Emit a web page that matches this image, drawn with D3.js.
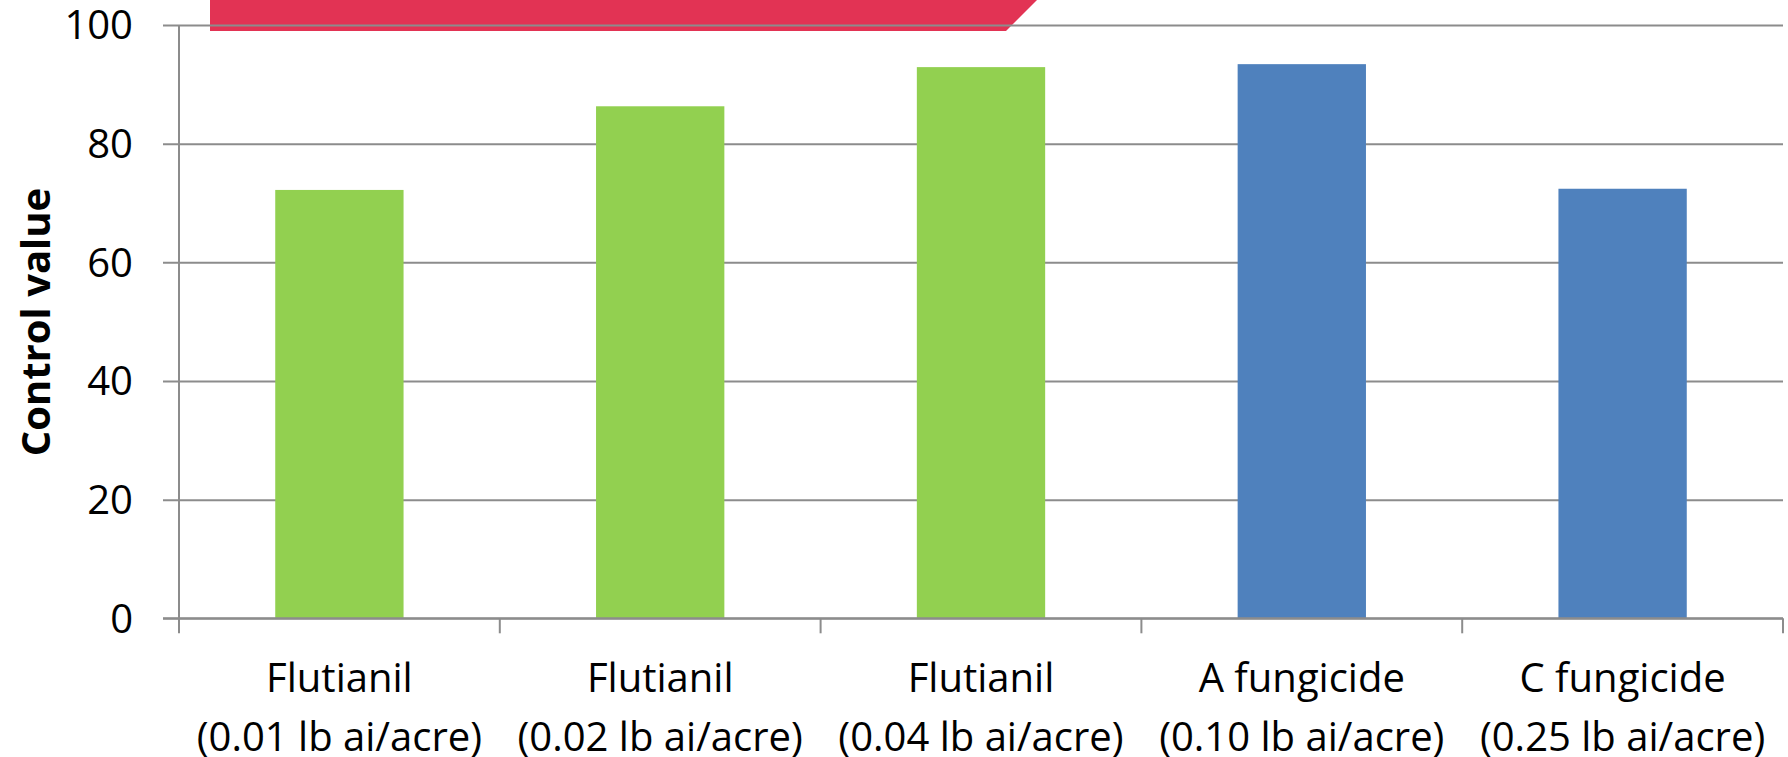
<!DOCTYPE html>
<html>
<head>
<meta charset="utf-8">
<script src="https://cdn.jsdelivr.net/npm/d3@7"></script>
<style>
  html, body { margin: 0; padding: 0; background: #fff; }
  svg { display: block; }
</style>
</head>
<body>
<svg id="chart" width="1788" height="757"></svg>
<script>
const categories = ["Flutianil", "Flutianil", "Flutianil", "A fungicide", "C fungicide"];
const rates = ["(0.01 lb ai/acre)", "(0.02 lb ai/acre)", "(0.04 lb ai/acre)", "(0.10 lb ai/acre)", "(0.25 lb ai/acre)"];
const values = [72.2, 86.3, 92.9, 93.4, 72.4];
const groups = ["flutianil", "flutianil", "flutianil", "reference", "reference"];
const yTicks = [0, 20, 40, 60, 80, 100];
const yLabel = "Control value";

(function () {
const svg = d3.select("#chart");
const plotL = 179, plotR = 1783, plotT = 25, plotB = 618.3;
const font = "'Open Sans', 'Noto Sans', sans-serif";

const x = d3.scaleBand().domain(d3.range(categories.length)).range([plotL, plotR]).paddingInner(0.6).paddingOuter(0.3);
const y = d3.scaleLinear().domain([0, 100]).range([plotB, plotT]);
const color = d3.scaleOrdinal().domain(["flutianil", "reference"]).range(["#92D050", "#4F81BD"]);

// decorative red banner at top
svg.append("polygon")
  .attr("points", [[210, 0], [1037, 0], [1006, 31], [210, 31]].map(p => p.join(",")).join(" "))
  .attr("fill", "#E23354");

// gridlines + y ticks
const yAxis = d3.axisLeft(y).tickValues(yTicks).tickSize(-(plotR - plotL)).tickPadding(0).tickFormat("");
const gy = svg.append("g").attr("transform", `translate(${plotL},0)`).call(yAxis);
gy.select(".domain").remove();
gy.selectAll(".tick line").attr("stroke", "#8c8c8c").attr("stroke-width", 2).attr("x1", -16);

// y tick labels
svg.append("g").selectAll("text").data(yTicks).join("text")
  .attr("x", 133).attr("y", d => y(d)).attr("dy", "0.36em")
  .attr("text-anchor", "end")
  .attr("font-family", font).attr("font-size", 40).attr("fill", "#000")
  .text(d => d);

// bars
svg.append("g").selectAll("rect").data(values).join("rect")
  .attr("x", (d, i) => x(i)).attr("width", x.bandwidth())
  .attr("y", d => y(d)).attr("height", d => y(0) - y(d))
  .attr("fill", (d, i) => color(groups[i]));

// y axis line
svg.append("line").attr("x1", plotL).attr("x2", plotL).attr("y1", plotT).attr("y2", plotB + 15)
  .attr("stroke", "#8c8c8c").attr("stroke-width", 2);

// x axis baseline & category boundary ticks
svg.append("line").attr("x1", plotL - 16).attr("x2", plotR).attr("y1", plotB).attr("y2", plotB)
  .attr("stroke", "#8c8c8c").attr("stroke-width", 2);
const step = x.step();
const boundaries = d3.range(1, categories.length + 1).map(i => plotL + i * step);
svg.append("g").selectAll("line").data(boundaries).join("line")
  .attr("x1", d => d).attr("x2", d => d).attr("y1", plotB).attr("y2", plotB + 15)
  .attr("stroke", "#8c8c8c").attr("stroke-width", 2);

// category labels
const lab = svg.append("g").selectAll("text").data(categories).join("text")
  .attr("text-anchor", "middle")
  .attr("font-family", font).attr("font-size", 40).attr("fill", "#000");
lab.append("tspan").attr("x", (d, i) => x(i) + x.bandwidth() / 2).attr("y", 692).text(d => d);
lab.append("tspan").attr("x", (d, i) => x(i) + x.bandwidth() / 2).attr("y", 751).text((d, i) => rates[i]);

// y axis title
svg.append("text")
  .attr("transform", `translate(50,322) rotate(-90)`)
  .attr("text-anchor", "middle")
  .attr("font-family", font).attr("font-weight", "bold").attr("font-size", 40).attr("fill", "#000")
  .text(yLabel);
})();
</script>
</body>
</html>
